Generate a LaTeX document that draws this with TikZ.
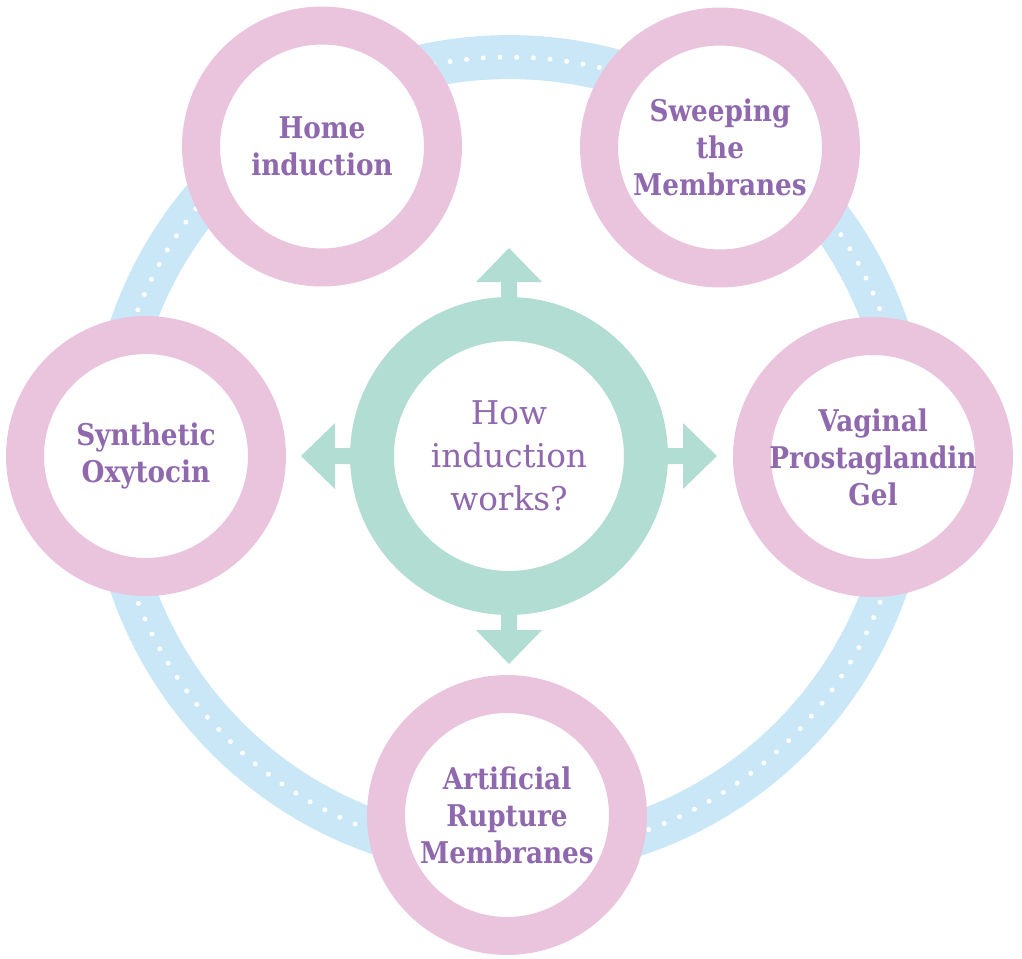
\documentclass[tikz,border=0pt]{standalone}
\usepackage{fontspec}
\setmainfont{DejaVu Serif}
\newfontfamily\labelfont[FakeStretch=0.88]{DejaVu Serif}
\definecolor{ringpink}{HTML}{EAC4DD}
\definecolor{pathblue}{HTML}{C9E7F6}
\definecolor{hubteal}{HTML}{B2DDD3}
\definecolor{textpurple}{HTML}{8F68AD}
\tikzset{
  method/.style={circle, draw=ringpink, line width=0.76cm, fill=white,
    minimum size=4.84cm, inner sep=0pt, align=center, text=textpurple,
    font=\labelfont\bfseries\fontsize{17}{21}\selectfont},
  hub/.style={circle, draw=hubteal, line width=0.88cm, fill=white,
    minimum size=5.48cm, inner sep=0pt, align=center, text=textpurple,
    font=\fontsize{18.6}{24.4}\selectfont},
  hubarrow/.style={fill=hubteal}
}
\begin{document}
\begin{tikzpicture}[x=0.02cm,y=-0.02cm]
\useasboundingbox (0,0) rectangle (1022,958);
\coordinate (C) at (509,456);

% circular path with white dots
\draw[pathblue, line width=0.88cm] (C) circle (7.98cm);
\foreach \i in {0,...,149}
  \fill[white] (C) ++({2.5+2.4*\i}:7.98cm) circle (0.05cm);

% the five methods
\node[method] (home)   at (322,146.5) {Home\\induction};
\node[method] (sweep)  at (720,147.5) {Sweeping\\the\\Membranes};
\node[method] (oxy)    at (146,456)   {Synthetic\\Oxytocin};
\node[method] (gel)    at (873,457)   {Vaginal\\Prostaglandin\\Gel};
\node[method] (arm)    at (507,815)   {Artificial\\Rupture\\Membranes};

% central hub with four outward arrows
\node[hub] (centre) at (C) {How\\induction\\works?};
\foreach \r in {0,90,180,270}
  \fill[hubarrow, shift={(centre.center)}, rotate=\r]
    (150,-8) -- (174,-8) -- (174,-33) -- (208,0) -- (174,33) -- (174,8) -- (150,8) -- cycle;
\end{tikzpicture}
\end{document}
